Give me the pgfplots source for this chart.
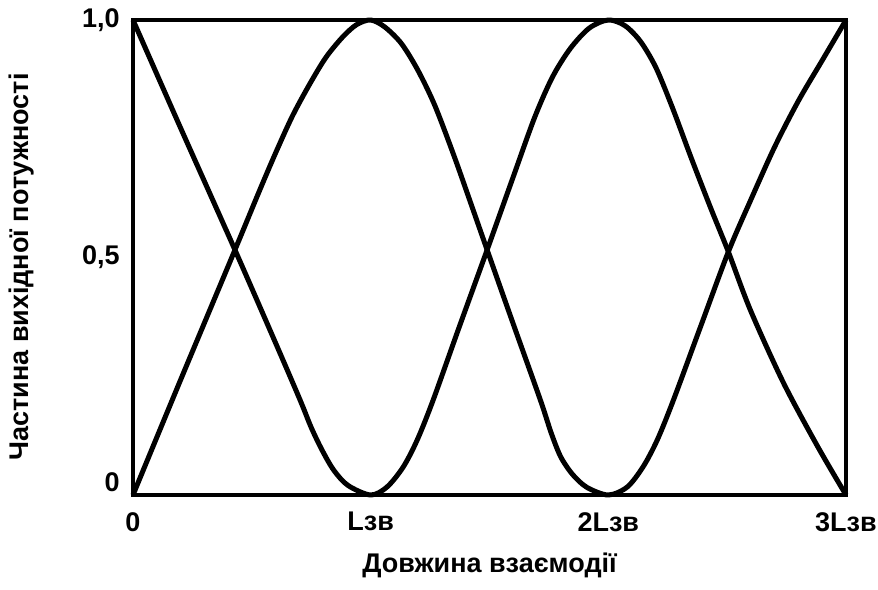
\documentclass[border=0pt]{standalone}
\usepackage{fontspec}
\setmainfont{Liberation Sans}
\usepackage{pgfplots}
\pgfplotsset{compat=1.18}

\begin{document}
\fontsize{13.5}{16}\selectfont\bfseries
\begin{tikzpicture}
\begin{axis}[
  name=ax,
  scale only axis,
  width=356.5pt, height=237.5pt,
  xmin=0, xmax=3, ymin=0, ymax=1,
  axis line style={line width=2pt},
  major tick length=0pt,
  xtick={0,1,2,3},
  xticklabels={0,{Lзв},{2Lзв},{3Lзв}},
  ytick={0.027,0.5,1},
  yticklabels={0,{0,5},{1,0}},
  xticklabel style={yshift=-4pt},
  yticklabel style={xshift=-2pt},
  xlabel={Довжина взаємодії},
  ylabel={Частина вихідної потужності},
  xlabel style={at={(axis description cs:0.5,0)}, anchor=center, yshift=-35pt},
  ylabel style={at={(axis description cs:-0.1557,0.48)}, anchor=center},
  clip=false,
]
% power fraction leaving the first channel
\addplot[black, line width=2.5pt, smooth, tension=0.5, line join=round] coordinates {
  (0,1) (0.2,0.773) (0.429,0.516) (0.6,0.32) (0.703,0.2) (0.75,0.142)
  (0.795,0.095) (0.845,0.052) (0.905,0.02) (1.0,0) (1.069,0.017) (1.137,0.059)
  (1.196,0.116) (1.263,0.2) (1.37,0.35) (1.49,0.516) (1.6,0.67) (1.69,0.795)
  (1.765,0.88) (1.84,0.94) (1.92,0.983) (2.0,1.0) (2.07,0.988) (2.135,0.955)
  (2.2,0.9) (2.27,0.815) (2.35,0.708) (2.43,0.605) (2.505,0.512) (2.598,0.389)
  (2.737,0.236) (2.882,0.101) (3.0,0)
};
% power fraction in the second channel
\addplot[black, line width=2.5pt, smooth, tension=0.5, line join=round] coordinates {
  (0,0) (0.2,0.242) (0.429,0.516) (0.53,0.638) (0.6,0.72) (0.67,0.797)
  (0.74,0.862) (0.81,0.92) (0.88,0.963) (0.94,0.99) (1.0,1.0) (1.06,0.985)
  (1.13,0.95) (1.2,0.893) (1.27,0.82) (1.35,0.715) (1.42,0.616) (1.49,0.516)
  (1.6,0.36) (1.714,0.2) (1.76,0.13) (1.80,0.08) (1.85,0.043) (1.91,0.016)
  (2.0,0) (2.08,0.017) (2.147,0.06) (2.206,0.116) (2.274,0.2) (2.387,0.353)
  (2.505,0.512) (2.6,0.622) (2.7,0.733) (2.8,0.83) (2.9,0.915) (3.0,1.0)
};
\end{axis}
\pgfresetboundingbox
\path[use as bounding box] ([shift={(-66.5pt,-47pt)}]ax.south west) rectangle ([shift={(16pt,10pt)}]ax.north east);
\end{tikzpicture}
\end{document}
